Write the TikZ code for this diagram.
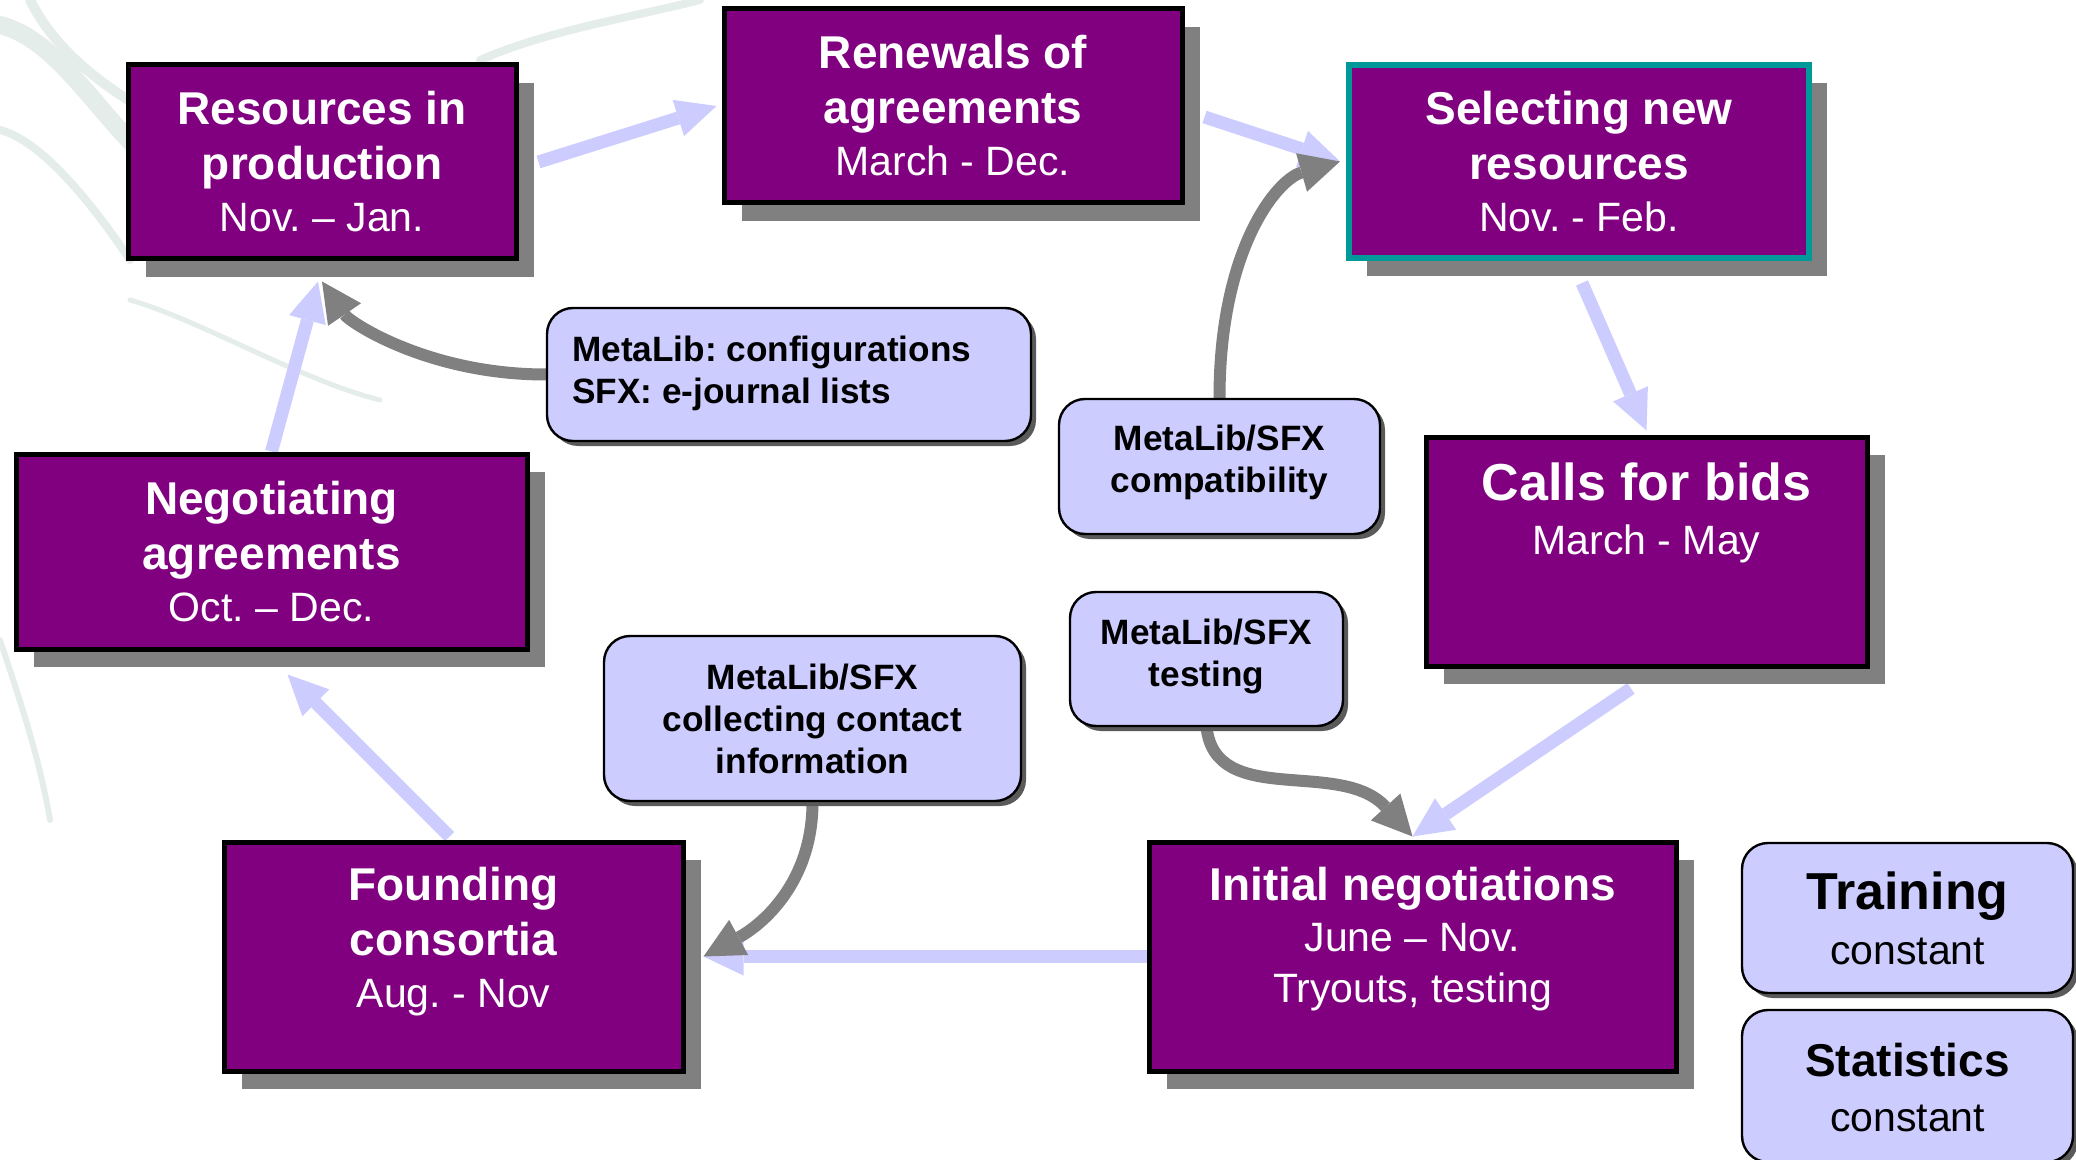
\documentclass[tikz,border=0pt]{standalone}
\usepackage{fontspec}
\setmainfont{Liberation Sans}
\usetikzlibrary{arrows.meta,shadows}
\definecolor{boxpurple}{RGB}{128,0,128}
\definecolor{lav}{RGB}{204,204,255}
\definecolor{sgray}{RGB}{128,128,128}
\definecolor{cgray}{RGB}{90,90,90}
\definecolor{tealborder}{RGB}{0,153,153}
\definecolor{faint}{RGB}{228,237,233}
\pgfdeclarelayer{background}
\pgfsetlayers{background,main}
\AtBeginDocument{\frenchspacing}
\newcommand{\myttl}{\fontsize{23}{27.5}\selectfont\bfseries\frenchspacing}
\newcommand{\mysub}{\fontsize{20.5}{26}\selectfont\mdseries\frenchspacing}
\newcommand{\mycall}{\fontsize{17.6}{21}\selectfont\bfseries\frenchspacing}
\newcommand{\mybig}{\fontsize{26}{27}\selectfont\bfseries\frenchspacing}
\newcommand{\mytrain}{\fontsize{26}{27.5}\selectfont\bfseries\frenchspacing}
\newcommand{\myinit}{\fontsize{23}{25.5}\selectfont\bfseries\frenchspacing}
\tikzset{
  pbox/.style={draw=black, line width=2.5pt, fill=boxpurple, text=white, align=center, inner sep=0pt,
    font=\myttl, drop shadow={shadow xshift=9pt, shadow yshift=-9pt, fill=sgray, opacity=1}},
  ptext/.style={text=white, align=center, inner sep=0pt, anchor=north, font=\myttl},
  callout/.style={draw=black, line width=1.2pt, fill=lav, rounded corners=13pt, align=center, inner sep=0pt, text=black,
    font=\mycall, drop shadow={shadow xshift=2.5pt, shadow yshift=-2.5pt, fill=cgray, opacity=1}},
  ctext/.style={align=center, inner sep=0pt, text=black, font=\mycall},
  flow/.style={draw=lav, line width=6.5pt, -{Triangle[length=20pt,width=19pt,line width=0pt]}},
  garrow/.style={draw=sgray, line width=6pt, -{Triangle[length=20pt,width=20pt,line width=0pt]}},
  bgline/.style={draw=faint, line cap=round}
}
\begin{document}
\begin{tikzpicture}[x=0.5pt,y=-0.5pt]
\useasboundingbox (0,0) rectangle (2076,1160);

% process boxes
\node[pbox, minimum width=194pt, minimum height=97pt] (res) at (322,162)
  {Resources in\\production\\[-1.5pt]\mysub Nov. – Jan.};
\node[pbox, minimum width=229pt, minimum height=97pt] (ren) at (953,106)
  {Renewals of\\agreements\\[-1.5pt]\mysub March - Dec.};
\node[pbox, draw=tealborder, line width=3pt, minimum width=230pt, minimum height=96.5pt] (sel) at (1579,161.5)
  {Selecting new\\resources\\[-1.5pt]\mysub Nov. - Feb.};
\node[pbox, minimum width=255.5pt, minimum height=97.5pt] (neg) at (271.5,551.5)
  {Negotiating\\agreements\\[-1.5pt]\mysub Oct. – Dec.};
\node[pbox, minimum width=220.5pt, minimum height=114.5pt] (calls) at (1646.5,551.5) {};
\node[ptext, font=\mybig] (calls-t) at ([yshift=-14pt]calls.north)
  {Calls for bids\\\mysub March - May};
\node[pbox, minimum width=263.5pt, minimum height=114.5pt] (init) at (1412.5,956.5) {};
\node[ptext, font=\myinit] (init-t) at ([yshift=-13.5pt]init.north)
  {Initial negotiations\\\mysub June – Nov.\\\mysub Tryouts, testing};
\node[pbox, minimum width=229.5pt, minimum height=114.5pt] (found) at (453.5,956.5) {};
\node[ptext] (found-t) at ([yshift=-13.5pt]found.north)
  {Founding\\consortia\\[-1.5pt]\mysub Aug. - Nov};

% callouts
\node[callout, minimum width=242pt, minimum height=66.5pt] (cfg) at (789,374.5) {};
\node[ctext, anchor=west, align=left] (cfg-t) at ([xshift=13pt,yshift=0.5pt]cfg.west)
  {MetaLib: configurations\\SFX: e-journal lists};
\node[callout, minimum width=160.5pt, minimum height=67.5pt] (compat) at (1219.5,466.5) {};
\node[ctext] (compat-t) at ([yshift=2pt]compat.center) {MetaLib/SFX\\compatibility};
\node[callout, minimum width=136.5pt, minimum height=67pt] (test) at (1206.5,659) {};
\node[ctext] (test-t) at ([yshift=1.5pt]test.center) {MetaLib/SFX\\testing};
\node[callout, minimum width=208.5pt, minimum height=82.5pt] (coll) at (812.5,718.5)
  {MetaLib/SFX\\collecting contact\\information};
\node[callout, font=\mytrain, minimum width=165.5pt, minimum height=75pt] (train) at (1907.5,918)
  {Training\\\mysub constant};
\node[callout, minimum width=165.5pt, minimum height=76pt] (stats) at (1907.5,1086) {};
\node[ctext, font=\myttl] (stats-t) at ([yshift=-1pt]stats.center) {Statistics\\\mysub constant};

\begin{pgfonlayer}{background}
  % faint background tree
  \draw[bgline, line width=9pt] (0,25) .. controls (60,40) and (100,120) .. (160,170);
  \draw[bgline, line width=5pt] (30,0) .. controls (60,60) and (120,100) .. (200,140);
  \draw[bgline, line width=4pt] (0,130) .. controls (40,140) and (90,200) .. (130,260);
  \draw[bgline, line width=2.5pt] (130,300) .. controls (200,320) and (300,380) .. (380,400);
  \draw[bgline, line width=4pt] (480,60) .. controls (550,30) and (620,20) .. (700,0);
  \draw[bgline, line width=3pt] (0,640) .. controls (20,700) and (40,760) .. (50,820);

  % main cycle
  \draw[flow] ([xshift=10pt]res.east) -- ([xshift=-2.5pt]ren.west);
  \draw[flow] ([xshift=10pt,yshift=-5.5pt]ren.east) -- ([xshift=-3pt]sel.west);
  \draw[flow] ([xshift=1.5pt,yshift=-11pt]sel.south) -- ([yshift=2pt]calls.north);
  \draw[flow] ([xshift=-7.75pt,yshift=-10pt]calls.south) -- ([yshift=1.5pt]init.north);
  \draw[flow] (init.west) -- ([xshift=9pt]found.east);
  \draw[flow] ([xshift=-2pt,yshift=1.5pt]found.north) -- ([xshift=8pt,yshift=-11.5pt]neg.south);
  \draw[flow] (neg.north) -- ([xshift=-2pt,yshift=-10pt]res.south);

  % MetaLib/SFX support arrows
  \draw[garrow] (cfg.west) .. controls +(-117,0) and +(28,41) .. ([yshift=-10pt]res.south);
  \draw[garrow] (compat.north) .. controls +(0,-149) and +(-63,18) .. ([xshift=-3pt]sel.west);
  \draw[garrow] (test.south) .. controls +(9,82) and +(-72,-79) .. ([yshift=1.5pt]init.north);
  \draw[garrow] (coll.south) .. controls +(0,80) and +(59,-32) .. ([xshift=9pt]found.east);
\end{pgfonlayer}
\end{tikzpicture}
\end{document}
